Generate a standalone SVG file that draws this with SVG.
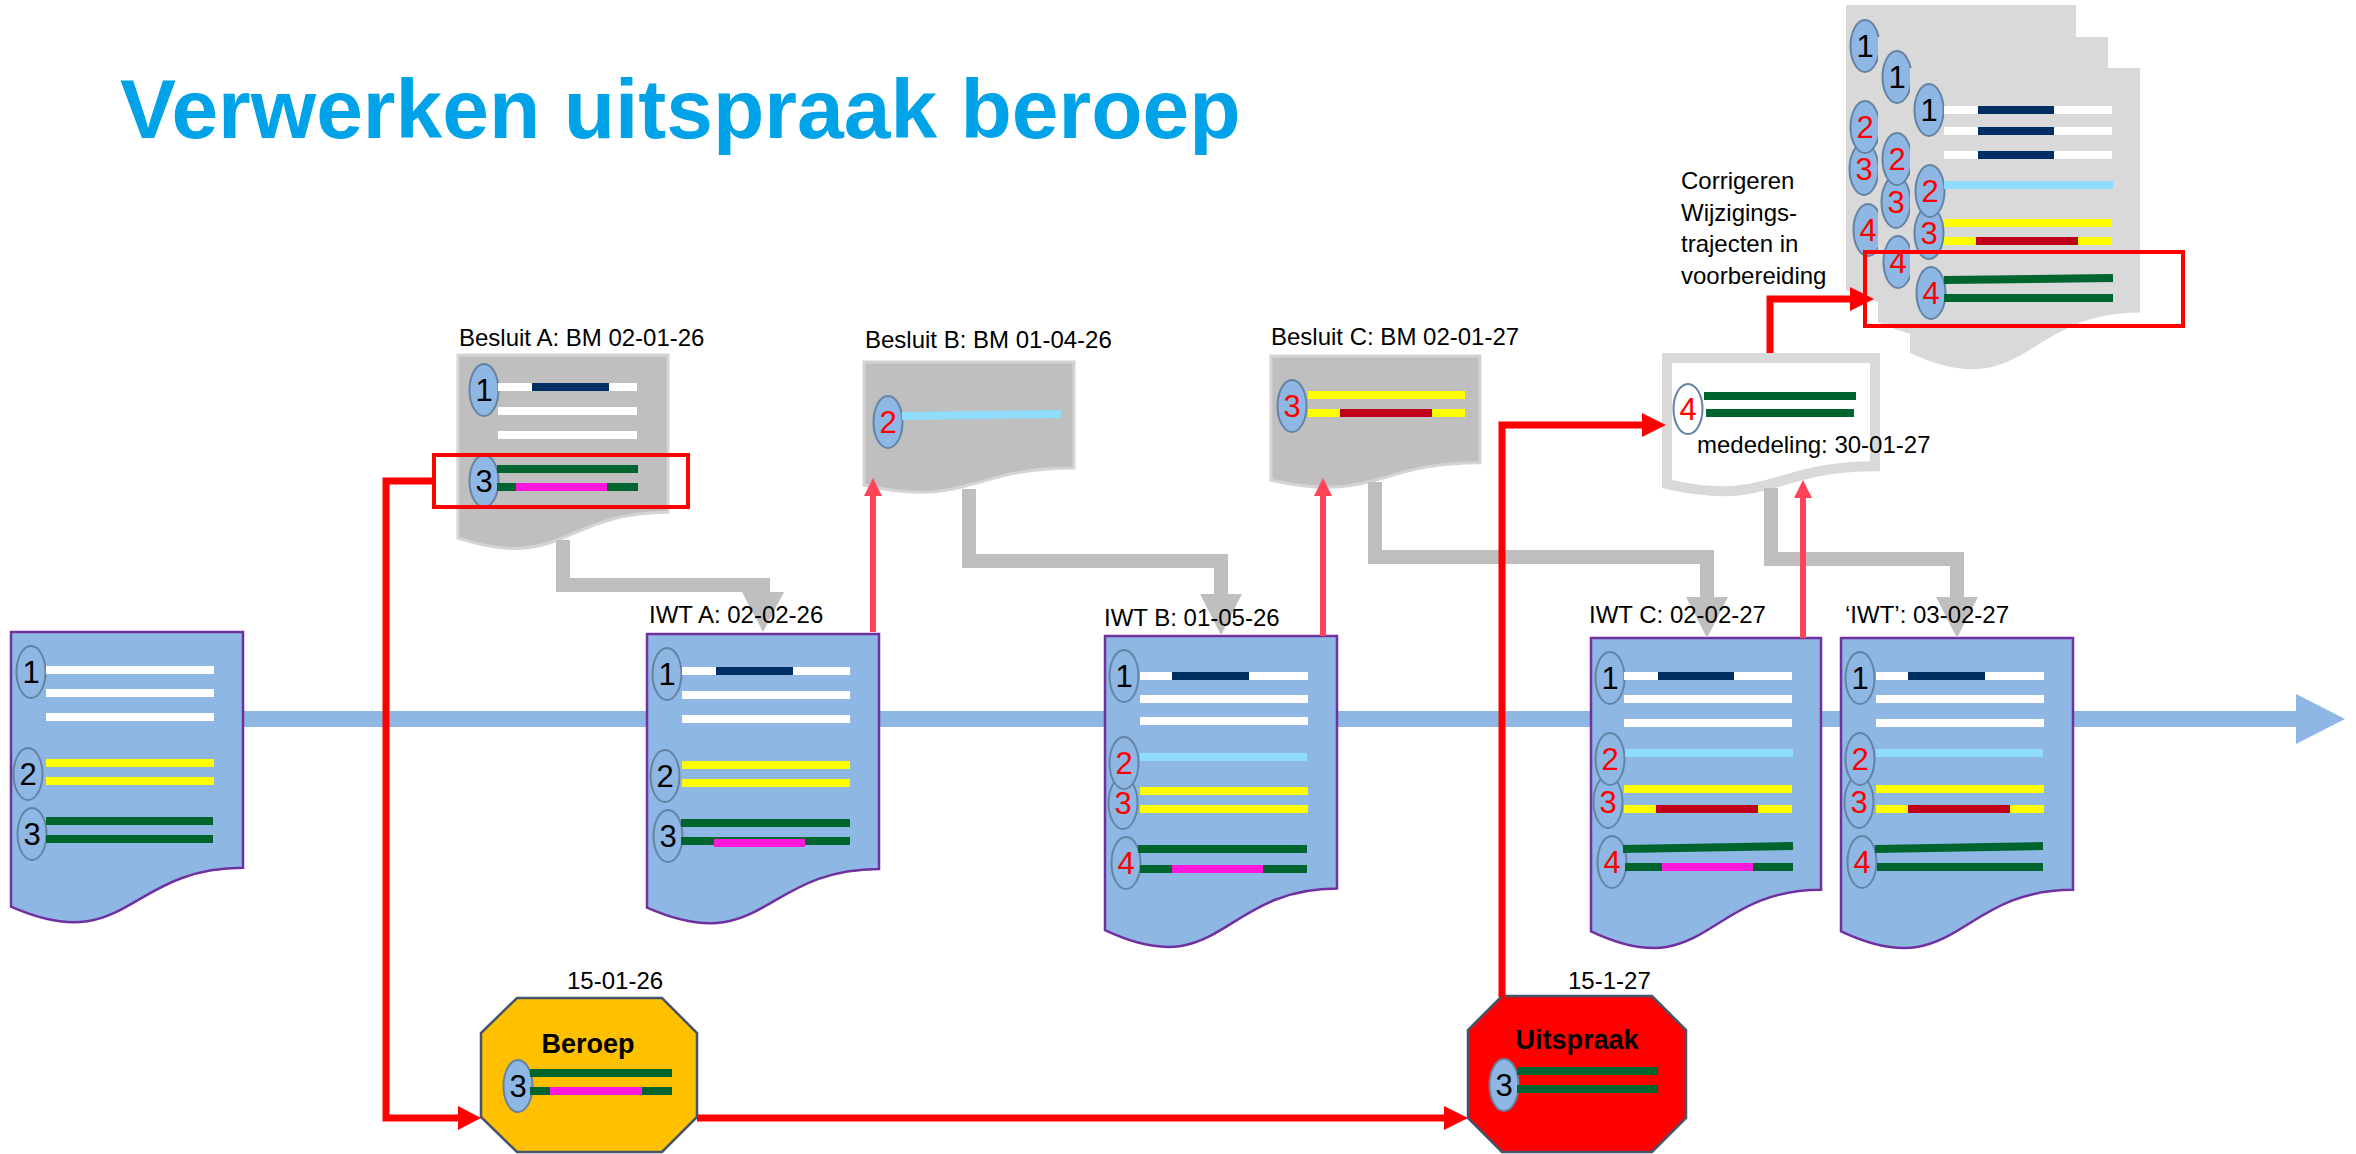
<svg xmlns="http://www.w3.org/2000/svg" width="2356" height="1154" viewBox="0 0 2356 1154">
<style>
.doc{fill:#8EB8E3;stroke:#7030A0;stroke-width:2.5}
.bes{fill:#BFBFBF;stroke:#D4D4D4;stroke-width:3}
.stk{fill:#D9D9D9}
.med{fill:#FFFFFF;stroke:#D9D9D9;stroke-width:10}
.el{fill:#8EB8E3;stroke:#6482A4;stroke-width:2}
.elw{fill:#FFFFFF;stroke:#6482A4;stroke-width:2}
.n{font-family:"Liberation Sans",Arial,sans-serif;font-size:31px;text-anchor:middle;fill:#000}
.nr{fill:#FF0000}
line{stroke-width:8}
.w{stroke:#FFFFFF}.nv{stroke:#002F63}.y{stroke:#FFFF00}.g{stroke:#00642F}.lb{stroke:#8FDCFC}.m{stroke:#FF18DB}.dr{stroke:#C00018}
.lbl{font-family:"Liberation Sans",Arial,sans-serif;font-size:24px;fill:#000}
.oct{stroke:#44546A;stroke-width:2.5}
.ot{font-family:"Liberation Sans",Arial,sans-serif;font-size:27px;font-weight:bold;text-anchor:middle;fill:#000}
.hl{fill:none;stroke:#FF0000;stroke-width:4}
.gc{fill:none;stroke:#BFBFBF;stroke-width:14}
.gh{fill:#BFBFBF}
.rc{fill:none;stroke:#FF0000;stroke-width:7}
.rh{fill:#FF0000}
.pc{fill:none;stroke:#FF4458;stroke-width:6}
.ph{fill:#FF4458}
</style>

<text id="title" x="120" y="138" font-family="'Liberation Sans',Arial,sans-serif" font-size="84" font-weight="bold" fill="#00A3E8">Verwerken uitspraak beroep</text>

<g id="timeline">
<rect x="240" y="711" width="2058" height="16" fill="#8EB8E3"/>
<polygon points="2296,694 2296,744 2345,719" fill="#8EB8E3"/>
</g>

<g id="doc-start">
<path class="doc" d="M11,632 H243 V867.8 C127,867.8 127,957.6 11,906.6 Z"/>
<ellipse class="el" cx="31" cy="672" rx="14.5" ry="26"/><text class="n" x="31" y="683">1</text>
<ellipse class="el" cx="28" cy="774" rx="14.5" ry="26"/><text class="n" x="28" y="785">2</text>
<ellipse class="el" cx="32" cy="834" rx="14.5" ry="26"/><text class="n" x="32" y="845">3</text>
<line class="w" x1="46" y1="670" x2="214" y2="670"/><line class="w" x1="46" y1="693" x2="214" y2="693"/><line class="w" x1="46" y1="717" x2="214" y2="717"/>
<line class="y" x1="46" y1="763" x2="214" y2="763"/><line class="y" x1="46" y1="781" x2="214" y2="781"/>
<line class="g" x1="46" y1="821" x2="213" y2="821"/><line class="g" x1="46" y1="839" x2="213" y2="839"/>
</g>

<g id="iwt-a">
<path class="doc" d="M647,634 H879 V869 C763,869 763,958.5 647,907.7 Z"/>
<ellipse class="el" cx="667" cy="674" rx="14.5" ry="26"/><text class="n" x="667" y="685">1</text>
<ellipse class="el" cx="665" cy="776" rx="14.5" ry="26"/><text class="n" x="665" y="787">2</text>
<ellipse class="el" cx="668" cy="836" rx="14.5" ry="26"/><text class="n" x="668" y="847">3</text>
<line class="w" x1="682" y1="671" x2="850" y2="671"/><line class="nv" x1="716" y1="671" x2="793" y2="671"/>
<line class="w" x1="682" y1="695" x2="850" y2="695"/><line class="w" x1="682" y1="719" x2="850" y2="719"/>
<line class="y" x1="682" y1="765" x2="850" y2="765"/><line class="y" x1="682" y1="783" x2="850" y2="783"/>
<line class="g" x1="681" y1="823" x2="850" y2="823"/><line class="g" x1="681" y1="841" x2="850" y2="841"/>
<line class="m" x1="714" y1="843" x2="805" y2="843"/>
</g>

<g id="iwt-b">
<path class="doc" d="M1105,636 H1337 V888.6 C1221,888.6 1221,984.9 1105,930.2 Z"/>
<ellipse class="el" cx="1124" cy="676" rx="14.5" ry="26"/><text class="n" x="1124" y="687">1</text>
<ellipse class="el" cx="1123" cy="803" rx="14.5" ry="26"/><text class="n nr" x="1123" y="814">3</text>
<ellipse class="el" cx="1124" cy="763" rx="14.5" ry="26"/><text class="n nr" x="1124" y="774">2</text>
<ellipse class="el" cx="1126" cy="863" rx="14.5" ry="26"/><text class="n nr" x="1126" y="874">4</text>
<line class="w" x1="1140" y1="676" x2="1308" y2="676"/><line class="nv" x1="1172" y1="676" x2="1249" y2="676"/>
<line class="w" x1="1140" y1="699" x2="1308" y2="699"/><line class="w" x1="1140" y1="721" x2="1308" y2="721"/>
<line class="lb" x1="1140" y1="757" x2="1307" y2="757"/>
<line class="y" x1="1140" y1="791" x2="1308" y2="791"/><line class="y" x1="1140" y1="809" x2="1308" y2="809"/>
<line class="g" x1="1138" y1="849" x2="1307" y2="849"/><line class="g" x1="1140" y1="869" x2="1307" y2="869"/>
<line class="m" x1="1172" y1="869" x2="1263" y2="869"/>
</g>

<g id="iwt-c">
<path class="doc" d="M1591,638 H1821 V889.8 C1706,889.8 1706,985.8 1591,931.3 Z"/>
<ellipse class="el" cx="1610" cy="678" rx="14.5" ry="26"/><text class="n" x="1610" y="689">1</text>
<ellipse class="el" cx="1608" cy="802" rx="14.5" ry="26"/><text class="n nr" x="1608" y="813">3</text>
<ellipse class="el" cx="1610" cy="759" rx="14.5" ry="26"/><text class="n nr" x="1610" y="770">2</text>
<ellipse class="el" cx="1612" cy="862" rx="14.5" ry="26"/><text class="n nr" x="1612" y="873">4</text>
<line class="w" x1="1624" y1="676" x2="1792" y2="676"/><line class="nv" x1="1658" y1="676" x2="1734" y2="676"/>
<line class="w" x1="1624" y1="699" x2="1792" y2="699"/><line class="w" x1="1624" y1="723" x2="1792" y2="723"/>
<line class="lb" x1="1625" y1="753" x2="1793" y2="753"/>
<line class="y" x1="1624" y1="789" x2="1792" y2="789"/><line class="y" x1="1624" y1="809" x2="1792" y2="809"/>
<line class="dr" x1="1656" y1="809" x2="1758" y2="809"/>
<line class="g" x1="1623" y1="849" x2="1793" y2="846"/><line class="g" x1="1625" y1="867" x2="1793" y2="867"/>
<line class="m" x1="1662" y1="867" x2="1753" y2="867"/>
</g>

<g id="iwt-d">
<path class="doc" d="M1841,638 H2073 V889.8 C1957,889.8 1957,985.8 1841,931.3 Z"/>
<ellipse class="el" cx="1860" cy="678" rx="14.5" ry="26"/><text class="n" x="1860" y="689">1</text>
<ellipse class="el" cx="1859" cy="802" rx="14.5" ry="26"/><text class="n nr" x="1859" y="813">3</text>
<ellipse class="el" cx="1860" cy="759" rx="14.5" ry="26"/><text class="n nr" x="1860" y="770">2</text>
<ellipse class="el" cx="1862" cy="862" rx="14.5" ry="26"/><text class="n nr" x="1862" y="873">4</text>
<line class="w" x1="1876" y1="676" x2="2044" y2="676"/><line class="nv" x1="1908" y1="676" x2="1985" y2="676"/>
<line class="w" x1="1876" y1="699" x2="2044" y2="699"/><line class="w" x1="1876" y1="723" x2="2044" y2="723"/>
<line class="lb" x1="1876" y1="753" x2="2043" y2="753"/>
<line class="y" x1="1876" y1="789" x2="2044" y2="789"/><line class="y" x1="1876" y1="809" x2="2044" y2="809"/>
<line class="dr" x1="1908" y1="809" x2="2010" y2="809"/>
<line class="g" x1="1875" y1="849" x2="2043" y2="846"/><line class="g" x1="1877" y1="867" x2="2043" y2="867"/>
</g>

<g id="besluit-a">
<path class="bes" d="M458,355 H668 V512.2 C563,512.2 563,572.1 458,538.1 Z"/>
<ellipse class="el" cx="484" cy="390" rx="14.5" ry="26"/><text class="n" x="484" y="401">1</text>
<ellipse class="el" cx="484" cy="481" rx="14.5" ry="26"/><text class="n" x="484" y="492">3</text>
<line class="w" x1="498" y1="387" x2="637" y2="387"/><line class="nv" x1="532" y1="387" x2="609" y2="387"/>
<line class="w" x1="498" y1="411" x2="637" y2="411"/><line class="w" x1="498" y1="435" x2="637" y2="435"/>
<line class="g" x1="497" y1="469" x2="638" y2="469"/><line class="g" x1="497" y1="487" x2="638" y2="487"/>
<line class="m" x1="516" y1="487" x2="607" y2="487"/>
<rect class="hl" x="434" y="455" width="254" height="52"/>
</g>

<g id="besluit-b">
<path class="bes" d="M864,362 H1074 V467.9 C969,467.9 969,508.2 864,485.3 Z"/>
<ellipse class="el" cx="888" cy="422" rx="14.5" ry="26"/><text class="n nr" x="888" y="433">2</text>
<line class="lb" x1="902" y1="416" x2="1061" y2="414"/>
</g>

<g id="besluit-c">
<path class="bes" d="M1271,356 H1480 V462.7 C1375.5,462.7 1375.5,503.3 1271,480.2 Z"/>
<ellipse class="el" cx="1292" cy="406" rx="14.5" ry="26"/><text class="n nr" x="1292" y="417">3</text>
<line class="y" x1="1308" y1="395" x2="1465" y2="395"/><line class="y" x1="1308" y1="413" x2="1465" y2="413"/>
<line class="dr" x1="1340" y1="413" x2="1432" y2="413"/>
</g>

<g id="mededeling">
<path class="med" d="M1667,358 H1875 V466.3 C1771,466.3 1771,507.5 1667,484.1 Z"/>
<ellipse class="elw" cx="1688" cy="409" rx="14.5" ry="25"/><text class="n nr" x="1688" y="420">4</text>
<line class="g" x1="1704" y1="396" x2="1856" y2="396"/><line class="g" x1="1706" y1="413" x2="1854" y2="413"/>
<text class="lbl" x="1697" y="453">mededeling: 30-01-27</text>
</g>

<g id="wijzigingstrajecten">
<path class="stk" d="M1846,5 H2076 V249.6 C1961,249.6 1961,342.8 1846,289.9 Z"/>
<ellipse class="el" cx="1865" cy="46" rx="14.5" ry="26"/><text class="n" x="1865" y="57">1</text>
<ellipse class="el" cx="1864" cy="169" rx="14.5" ry="26"/><text class="n nr" x="1864" y="180">3</text>
<ellipse class="el" cx="1865" cy="127" rx="14.5" ry="26"/><text class="n nr" x="1865" y="138">2</text>
<ellipse class="el" cx="1868" cy="230" rx="14.5" ry="26"/><text class="n nr" x="1868" y="241">4</text>
<path class="stk" d="M1878,37 H2108 V281.6 C1993,281.6 1993,374.8 1878,321.9 Z"/>
<ellipse class="el" cx="1897" cy="77" rx="14.5" ry="26"/><text class="n" x="1897" y="88">1</text>
<ellipse class="el" cx="1896" cy="202" rx="14.5" ry="26"/><text class="n nr" x="1896" y="213">3</text>
<ellipse class="el" cx="1897" cy="159" rx="14.5" ry="26"/><text class="n nr" x="1897" y="170">2</text>
<ellipse class="el" cx="1898" cy="262" rx="14.5" ry="26"/><text class="n nr" x="1898" y="273">4</text>
<path class="stk" d="M1910,68 H2140 V312.6 C2025,312.6 2025,405.8 1910,352.9 Z"/>
<ellipse class="el" cx="1929" cy="110" rx="14.5" ry="26"/><text class="n" x="1929" y="121">1</text>
<ellipse class="el" cx="1929" cy="233" rx="14.5" ry="26"/><text class="n nr" x="1929" y="244">3</text>
<ellipse class="el" cx="1930" cy="191" rx="14.5" ry="26"/><text class="n nr" x="1930" y="202">2</text>
<ellipse class="el" cx="1931" cy="293" rx="14.5" ry="26"/><text class="n nr" x="1931" y="304">4</text>
<line class="w" x1="1944" y1="110" x2="2112" y2="110"/><line class="nv" x1="1978" y1="110" x2="2054" y2="110"/>
<line class="w" x1="1944" y1="131" x2="2112" y2="131"/><line class="nv" x1="1978" y1="131" x2="2054" y2="131"/>
<line class="w" x1="1944" y1="155" x2="2112" y2="155"/><line class="nv" x1="1978" y1="155" x2="2054" y2="155"/>
<line class="lb" x1="1944" y1="185" x2="2113" y2="185"/>
<line class="y" x1="1944" y1="223" x2="2112" y2="223"/><line class="y" x1="1944" y1="241" x2="2112" y2="241"/>
<line class="dr" x1="1976" y1="241" x2="2078" y2="241"/>
<line class="g" x1="1944" y1="280" x2="2113" y2="278"/><line class="g" x1="1944" y1="298" x2="2113" y2="298"/>
<rect class="hl" x="1865" y="252" width="318" height="74"/>
</g>

<g id="beroep">
<polygon class="oct" fill="#FFC000" points="517,998 662,998 697,1033 697,1117 662,1152 517,1152 481,1117 481,1033"/>
<text class="ot" x="588" y="1053">Beroep</text>
<ellipse class="el" cx="518" cy="1086" rx="14.5" ry="26"/><text class="n" x="518" y="1097">3</text>
<line class="g" x1="530" y1="1073" x2="672" y2="1073"/><line class="g" x1="530" y1="1091" x2="672" y2="1091"/>
<line class="m" x1="550" y1="1091" x2="642" y2="1091"/>
</g>

<g id="uitspraak">
<polygon class="oct" fill="#FF0000" points="1502,996 1652,996 1686,1030 1686,1118 1652,1152 1502,1152 1468,1118 1468,1030"/>
<text class="ot" x="1577" y="1049">Uitspraak</text>
<ellipse class="el" cx="1504" cy="1085" rx="14.5" ry="26"/><text class="n" x="1504" y="1096">3</text>
<line class="g" x1="1517" y1="1071" x2="1658" y2="1071"/><line class="g" x1="1517" y1="1089" x2="1658" y2="1089"/>
</g>

<g id="connectors">
<path class="gc" d="M563,540 V585 H763 V594"/><polygon class="gh" points="742,592 784,592 763,632"/>
<path class="gc" d="M969,489 V561 H1221 V596"/><polygon class="gh" points="1200,594 1242,594 1221,635"/>
<path class="gc" d="M1375,482 V557 H1707 V599"/><polygon class="gh" points="1686,597 1728,597 1707,638"/>
<path class="gc" d="M1771,488 V559 H1957 V599"/><polygon class="gh" points="1936,597 1978,597 1957,638"/>
<path class="rc" d="M432,481 H386 V1118 H462"/><polygon class="rh" points="458,1106 458,1130 481,1118"/>
<path class="rc" d="M697,1118 H1447"/><polygon class="rh" points="1444,1106 1444,1130 1468,1118"/>
<path class="rc" d="M1502,997 V425 H1645"/><polygon class="rh" points="1642,413 1642,437 1666,425"/>
<path class="rc" d="M1770,353 V299 H1852"/><polygon class="rh" points="1850,287 1850,311 1874,299"/>
<path class="pc" d="M873,632 V494"/><polygon class="ph" points="864,496 882,496 873,478"/>
<path class="pc" d="M1323,636 V494"/><polygon class="ph" points="1314,496 1332,496 1323,478"/>
<path class="pc" d="M1803,638 V496"/><polygon class="ph" points="1794,498 1812,498 1803,480"/>
</g>

<g id="labels">
<text class="lbl" x="459" y="346">Besluit A: BM 02-01-26</text>
<text class="lbl" x="865" y="348">Besluit B: BM 01-04-26</text>
<text class="lbl" x="1271" y="345">Besluit C: BM 02-01-27</text>
<text class="lbl" x="649" y="623">IWT A: 02-02-26</text>
<text class="lbl" x="1104" y="626">IWT B: 01-05-26</text>
<text class="lbl" x="1589" y="623">IWT C: 02-02-27</text>
<text class="lbl" x="1845" y="623">‘IWT’: 03-02-27</text>
<text class="lbl" x="567" y="989">15-01-26</text>
<text class="lbl" x="1568" y="989">15-1-27</text>
<text class="lbl" x="1681" y="189">Corrigeren</text>
<text class="lbl" x="1681" y="221">Wijzigings-</text>
<text class="lbl" x="1681" y="252">trajecten in</text>
<text class="lbl" x="1681" y="284">voorbereiding</text>
</g>
</svg>
